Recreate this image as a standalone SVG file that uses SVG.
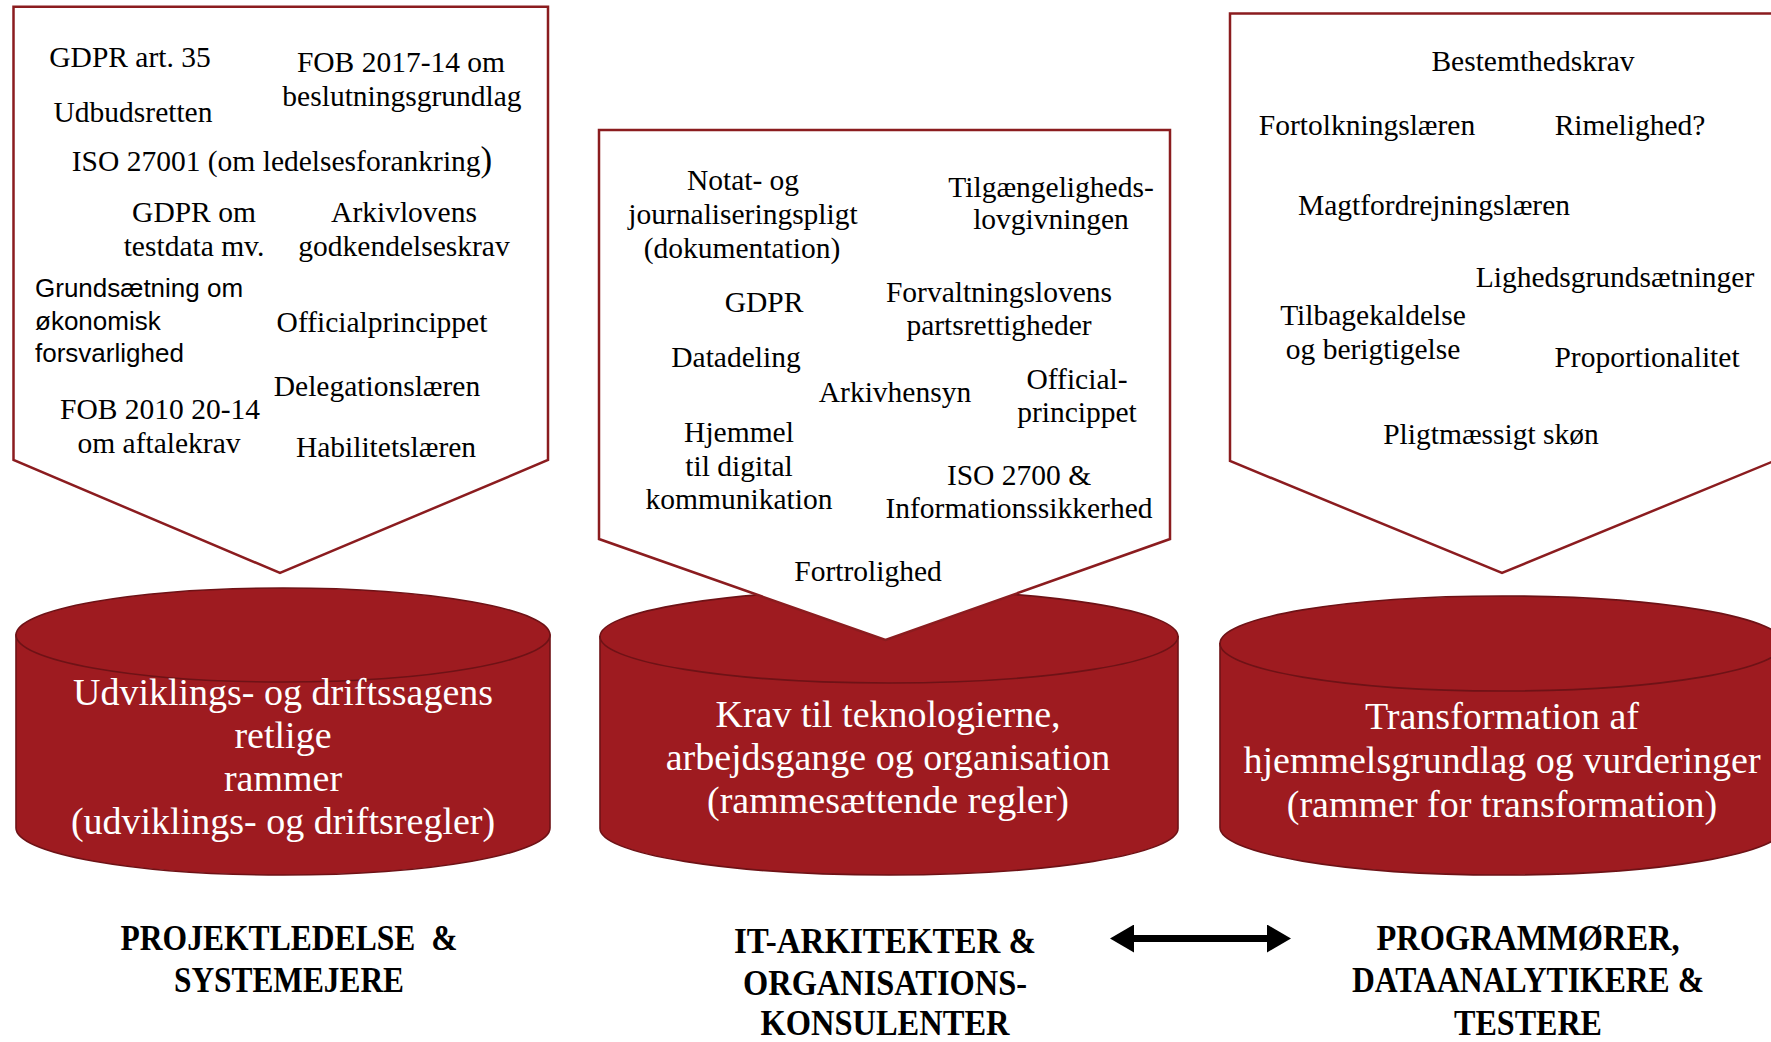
<svg xmlns="http://www.w3.org/2000/svg" width="1771" height="1042" viewBox="0 0 1771 1042">
<defs>
<style>
.pent{fill:#ffffff;stroke:#8b1c1f;stroke-width:2.5;stroke-linejoin:miter}
.cyl{fill:#9e1b20;stroke:#6e1216;stroke-width:1.6}
.t{font-family:"Liberation Serif",serif;font-size:29.5px;fill:#000;text-anchor:middle}
.ts{font-family:"Liberation Sans",Arial,sans-serif;font-size:26px;fill:#000}
.ct{font-family:"Liberation Serif",serif;font-size:38px;fill:#ffffff;text-anchor:middle}
.lb{font-family:"Liberation Serif",serif;font-size:36px;font-weight:bold;fill:#000;text-anchor:middle}
.arrow{stroke:#000;stroke-width:7;fill:none}
</style>
<marker id="ah" viewBox="0 0 24 28" refX="2" refY="14" markerWidth="24" markerHeight="28" markerUnits="userSpaceOnUse" orient="auto-start-reverse">
<path d="M0,0 L24,14 L0,28 Z" fill="#000"/>
</marker>
</defs>
<rect width="1771" height="1042" fill="#ffffff"/>

<g id="cylinder-left">
<path class="cyl" d="M16,635 V828 A267,47 0 0 0 550,828 V635 Z"/>
<ellipse class="cyl" cx="283" cy="635" rx="267" ry="47"/>
<text class="ct" x="283" y="705">Udviklings- og driftssagens</text>
<text class="ct" x="283" y="748">retlige</text>
<text class="ct" x="283" y="791">rammer</text>
<text class="ct" x="283" y="834">(udviklings- og driftsregler)</text>
</g>

<g id="cylinder-middle">
<path class="cyl" d="M600,636.5 V828.5 A289,46.5 0 0 0 1178,828.5 V636.5 Z"/>
<ellipse class="cyl" cx="889" cy="636.5" rx="289" ry="46.5"/>
<text class="ct" x="888" y="727">Krav til teknologierne,</text>
<text class="ct" x="888" y="770">arbejdsgange og organisation</text>
<text class="ct" x="888" y="813">(rammesættende regler)</text>
</g>

<g id="cylinder-right">
<path class="cyl" d="M1220,643.5 V827.5 A282,47.5 0 0 0 1784,827.5 V643.5 Z"/>
<ellipse class="cyl" cx="1502" cy="643.5" rx="282" ry="47.5"/>
<text class="ct" x="1502" y="729">Transformation af</text>
<text class="ct" x="1502" y="773">hjemmelsgrundlag og vurderinger</text>
<text class="ct" x="1502" y="817">(rammer for transformation)</text>
</g>

<g id="pentagon-left">
<polygon class="pent" points="13.5,6.8 548,6.8 548,460 280,573 13.5,460"/>
<text class="t" x="130" y="67">GDPR art. 35</text>
<text class="t" x="401" y="72">FOB 2017-14 om</text>
<text class="t" x="402" y="106">beslutningsgrundlag</text>
<text class="t" x="133" y="122">Udbudsretten</text>
<text class="t" x="282" y="171">ISO 27001 (om ledelsesforankring<tspan font-size="35">)</tspan></text>
<text class="t" x="194" y="222">GDPR om</text>
<text class="t" x="194" y="256">testdata mv.</text>
<text class="t" x="404" y="222">Arkivlovens</text>
<text class="t" x="404" y="256">godkendelseskrav</text>
<text class="ts" x="35" y="297">Grundsætning om</text>
<text class="ts" x="35" y="330">økonomisk</text>
<text class="ts" x="35" y="362">forsvarlighed</text>
<text class="t" x="382" y="332">Officialprincippet</text>
<text class="t" x="377" y="396">Delegationslæren</text>
<text class="t" x="160" y="419">FOB 2010 20-14</text>
<text class="t" x="159" y="453">om aftalekrav</text>
<text class="t" x="386" y="457">Habilitetslæren</text>
</g>

<g id="pentagon-middle">
<polygon class="pent" points="599,130 1170,130 1170,539 885.5,640 599,539"/>
<text class="t" x="743" y="190">Notat- og</text>
<text class="t" x="743" y="224">journaliseringspligt</text>
<text class="t" x="742" y="258">(dokumentation)</text>
<text class="t" x="1051" y="197">Tilgængeligheds-</text>
<text class="t" x="1051" y="229">lovgivningen</text>
<text class="t" x="764" y="312">GDPR</text>
<text class="t" x="999" y="302">Forvaltningslovens</text>
<text class="t" x="999" y="335">partsrettigheder</text>
<text class="t" x="736" y="367">Datadeling</text>
<text class="t" x="895" y="402">Arkivhensyn</text>
<text class="t" x="1077" y="389">Official-</text>
<text class="t" x="1077" y="422">princippet</text>
<text class="t" x="739" y="442">Hjemmel</text>
<text class="t" x="739" y="476">til digital</text>
<text class="t" x="739" y="509">kommunikation</text>
<text class="t" x="1019" y="485">ISO 2700 &amp;</text>
<text class="t" x="1019" y="518">Informationssikkerhed</text>
<text class="t" x="868" y="581">Fortrolighed</text>
</g>

<g id="pentagon-right">
<polygon class="pent" points="1230,13.5 1774,13.5 1774,461 1502,573 1230,461"/>
<text class="t" x="1533" y="71">Bestemthedskrav</text>
<text class="t" x="1367" y="135">Fortolkningslæren</text>
<text class="t" x="1630" y="135">Rimelighed?</text>
<text class="t" x="1434" y="215">Magtfordrejningslæren</text>
<text class="t" x="1615" y="287">Lighedsgrundsætninger</text>
<text class="t" x="1373" y="325">Tilbagekaldelse</text>
<text class="t" x="1373" y="359">og berigtigelse</text>
<text class="t" x="1647" y="367">Proportionalitet</text>
<text class="t" x="1491" y="444">Pligtmæssigt skøn</text>
</g>

<g id="label-left">
<text class="lb" x="289" y="950" xml:space="preserve" textLength="337" lengthAdjust="spacingAndGlyphs">PROJEKTLEDELSE  &amp;</text>
<text class="lb" x="289" y="992" textLength="230" lengthAdjust="spacingAndGlyphs">SYSTEMEJERE</text>
</g>

<g id="label-middle">
<text class="lb" x="885" y="953" textLength="302" lengthAdjust="spacingAndGlyphs">IT-ARKITEKTER &amp;</text>
<text class="lb" x="885" y="995" textLength="284" lengthAdjust="spacingAndGlyphs">ORGANISATIONS-</text>
<text class="lb" x="885" y="1035" textLength="249" lengthAdjust="spacingAndGlyphs">KONSULENTER</text>
</g>

<g id="label-right">
<text class="lb" x="1528" y="950" textLength="303" lengthAdjust="spacingAndGlyphs">PROGRAMMØRER,</text>
<text class="lb" x="1528" y="992" textLength="352" lengthAdjust="spacingAndGlyphs">DATAANALYTIKERE &amp;</text>
<text class="lb" x="1528" y="1035" textLength="148" lengthAdjust="spacingAndGlyphs">TESTERE</text>
</g>

<g id="connectors">
<path class="arrow" d="M1132,938.5 H1269" marker-start="url(#ah)" marker-end="url(#ah)"/>
</g>
</svg>
